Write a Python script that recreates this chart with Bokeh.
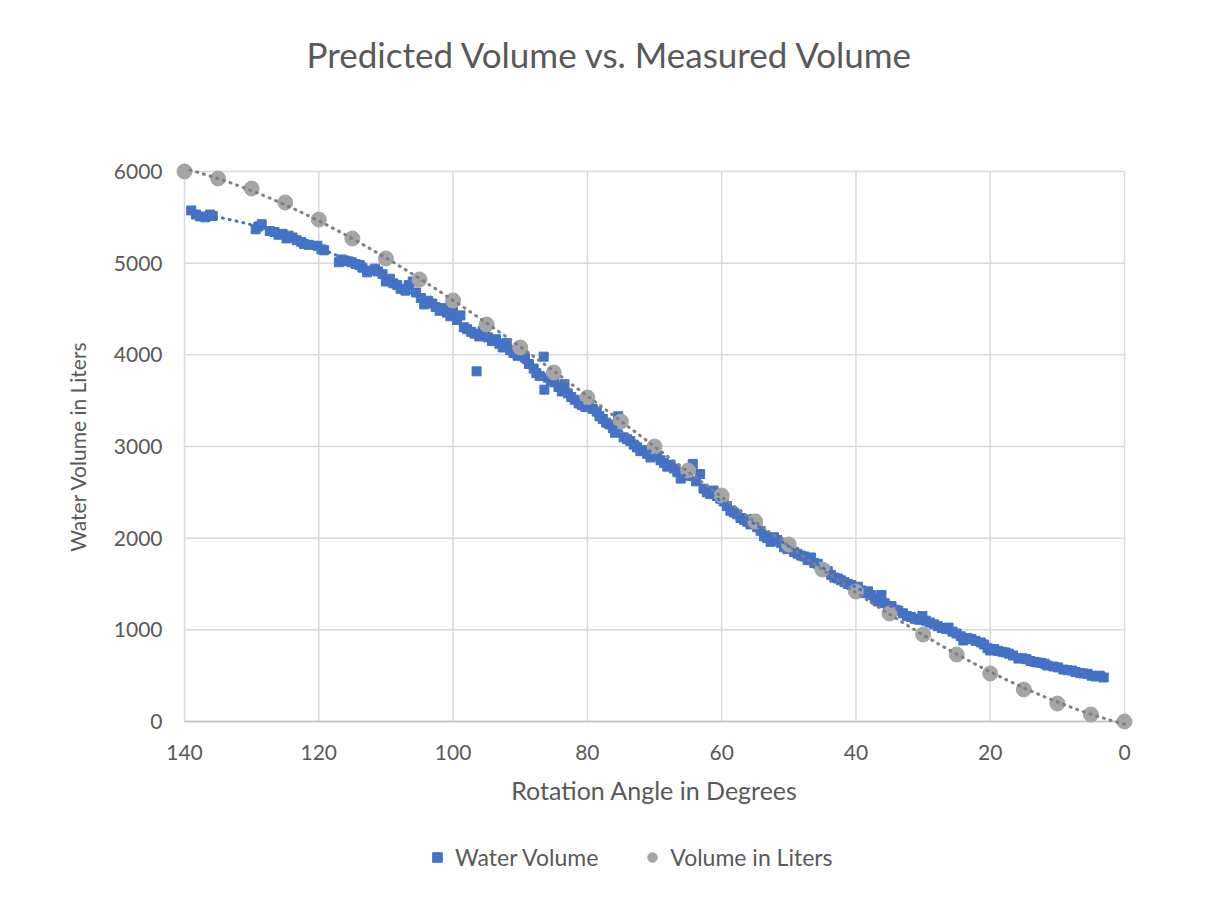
import numpy as np
from bokeh.plotting import figure
from bokeh.layouts import column
from bokeh.models import Range1d, FixedTicker, Legend, LegendItem, Label
from bokeh.embed import file_html
from bokeh.resources import INLINE

chart_title = "Predicted Volume vs. Measured Volume"
x_label = "Rotation Angle in Degrees"
y_label = "Water Volume in Liters"
x_ticks = [0, 20, 40, 60, 80, 100, 120, 140]
y_ticks = [0, 1000, 2000, 3000, 4000, 5000, 6000]
series_names = ["Water Volume", "Volume in Liters"]

water_angle = [
    139.0, 138.3, 137.7, 136.9, 136.2, 135.8, 129.4, 129.0, 128.5, 127.3,
    126.6, 126.0, 125.4, 124.8, 124.5, 123.9, 123.3, 122.6, 122.2, 121.5,
    120.2, 119.6, 119.2, 117.0, 116.6, 116.2, 115.6, 115.1, 114.5, 113.9,
    113.5, 112.8, 112.4, 111.6, 111.2, 110.5, 110.0, 109.4, 108.9, 108.3,
    107.8, 107.1, 106.6, 106.0, 105.5, 104.8, 104.3, 103.7, 103.1, 102.6,
    102.0, 101.5, 100.9, 100.4, 100.0, 99.4, 98.9, 98.4, 97.9, 97.3,
    96.5, 96.8, 96.1, 95.6, 95.2, 94.8, 94.2, 93.6, 93.1, 92.6,
    92.0, 91.5, 91.0, 90.4, 89.9, 89.3, 88.7, 88.0, 87.6, 87.1,
    86.5, 86.4, 85.9, 85.4, 84.9, 84.3, 83.8, 83.4, 82.9, 82.4,
    81.9, 81.3, 80.8, 80.3, 79.8, 79.2, 78.6, 78.2, 77.7, 77.2,
    76.7, 76.2, 75.9, 75.4, 75.0, 74.6, 74.1, 73.6, 73.1, 72.6,
    72.1, 71.6, 71.1, 70.6, 70.1, 69.6, 69.1, 68.6, 68.1, 67.6,
    67.1, 66.6, 66.1, 65.6, 65.0, 64.3, 63.8, 63.2, 62.7, 62.2,
    61.7, 61.2, 60.7, 60.2, 59.7, 59.2, 58.7, 58.2, 57.7, 57.2,
    56.7, 56.2, 55.7, 55.2, 54.7, 54.2, 53.7, 53.2, 52.7, 52.2,
    51.7, 51.2, 50.7, 50.2, 49.7, 49.2, 48.7, 48.2, 47.7, 47.2,
    46.7, 46.2, 45.7, 45.2, 44.7, 44.2, 43.7, 43.2, 42.7, 42.2,
    41.7, 41.2, 40.7, 40.2, 39.7, 39.2, 38.7, 38.2, 37.7, 37.2,
    36.7, 36.2, 35.7, 35.2, 34.7, 34.2, 33.7, 33.0, 32.4, 31.8,
    31.2, 30.6, 30.1, 29.6, 29.0, 28.4, 27.8, 27.2, 26.6, 26.2,
    25.6, 25.0, 24.4, 24.0, 23.4, 22.8, 22.2, 21.4, 20.9, 20.4,
    20.0, 19.4, 18.8, 18.2, 17.7, 17.2, 16.6, 15.8, 15.2, 14.6,
    14.0, 13.4, 13.0, 12.4, 11.9, 11.5, 10.6, 9.9, 9.1, 8.5,
    7.8, 7.3, 6.6, 6.1, 5.5, 4.9, 4.3, 3.7, 3.1,
]
water_volume = [
    5575, 5530, 5510, 5500, 5530, 5515, 5370, 5400, 5425, 5350,
    5340, 5310, 5320, 5270, 5300, 5280, 5250, 5230, 5210, 5200,
    5190, 5150, 5140, 5010, 5040, 5030, 5020, 5010, 4990, 4980,
    4950, 4900, 4920, 4940, 4910, 4880, 4800, 4830, 4780, 4760,
    4720, 4700, 4760, 4800, 4680, 4620, 4550, 4590, 4560, 4520,
    4480, 4510, 4460, 4420, 4470, 4380, 4430, 4300, 4280, 4250,
    3820, 4230, 4200, 4260, 4230, 4190, 4150, 4170, 4120, 4080,
    4130, 4050, 4020, 3990, 4010, 3970, 3900, 3850, 3800, 3770,
    3980, 3620, 3750, 3720, 3700, 3650, 3600, 3680, 3580, 3540,
    3510, 3470, 3450, 3430, 3480, 3410, 3380, 3330, 3300, 3260,
    3240, 3200, 3150, 3330, 3280, 3100, 3080, 3060, 3020, 2990,
    2950, 2960, 2920, 2880, 2950, 2900, 2850, 2820, 2780, 2800,
    2760, 2720, 2650, 2700, 2680, 2810, 2620, 2700, 2540, 2500,
    2480, 2520, 2460, 2430, 2400, 2350, 2300, 2280, 2260, 2220,
    2200, 2180, 2150, 2210, 2120, 2080, 2020, 2000, 1960, 2010,
    1980, 1950, 1900, 1880, 1920, 1850, 1830, 1810, 1800, 1760,
    1790, 1730, 1720, 1680, 1660, 1640, 1600, 1570, 1560, 1540,
    1520, 1500, 1490, 1450, 1470, 1430, 1400, 1420, 1380, 1340,
    1310, 1380, 1290, 1240, 1260, 1220, 1210, 1180, 1150, 1140,
    1120, 1110, 1150, 1100, 1080, 1060, 1040, 1020, 1010, 1025,
    980, 960, 930, 884, 910, 900, 880, 862, 840, 800,
    775, 790, 770, 760, 753, 740, 720, 687, 690, 680,
    660, 650, 644, 640, 630, 611, 600, 590, 567, 560,
    556, 540, 530, 524, 520, 500, 491, 500, 480,
]

pred_angle = [140, 135, 130, 125, 120, 115, 110, 105, 100, 95, 90, 85, 80, 75,
              70, 65, 60, 55, 50, 45, 40, 35, 30, 25, 20, 15, 10, 5, 0]
pred_volume = [6000, 5924, 5815, 5662, 5476, 5269, 5051, 4822, 4593, 4331,
               4080, 3807, 3535, 3273, 3000, 2738, 2465, 2182, 1931, 1658,
               1418, 1178, 949, 731, 524, 349, 196, 76, 0]

BLUE = "#4472C4"
GRAY = "#A5A5A5"
TREND_GRAY = "#7F7F7F"
TEXT = "#595959"
GRID = "#D9D9D9"
AXIS = "#BFBFBF"
FONT = "Lato"

xmin, xmax = min(x_ticks), max(x_ticks)
ymin, ymax = min(y_ticks), max(y_ticks)
PADX, PADY = 1.34, 98  # ~9px breathing room so edge markers are not clipped

W = 1197
TITLE_H, MAIN_H, LEG_H = 120, 710, 59
L, R, T, B = 175, 64, 42, 100


def bare_figure(height):
    f = figure(width=W, height=height, output_backend="svg", toolbar_location=None,
               x_axis_type=None, y_axis_type=None,
               x_range=Range1d(0, 1), y_range=Range1d(0, 1),
               min_border=0, min_border_left=0, min_border_right=0,
               min_border_top=0, min_border_bottom=0)
    f.outline_line_color = None
    f.background_fill_color = "white"
    f.border_fill_color = "white"
    return f


# ---- title strip (its frame is aligned with the main plot's frame)
pt = bare_figure(TITLE_H)
pt.add_layout(Label(x=435, y=TITLE_H - 53, x_units="screen", y_units="screen",
                    text=chart_title, text_align="center", text_baseline="middle",
                    text_font=FONT, text_font_size="35px", text_color=TEXT))

# ---- main plot
p = figure(width=W, height=MAIN_H, output_backend="svg", toolbar_location=None,
           x_range=Range1d(xmax + PADX, xmin - PADX),
           y_range=Range1d(ymin - PADY, ymax + PADY),
           min_border_left=L, min_border_right=R, min_border_top=T, min_border_bottom=B)
p.outline_line_color = None
p.background_fill_color = "white"
p.border_fill_color = "white"
p.xgrid.visible = False
p.ygrid.visible = False

# gridlines spanning exactly the axis extents
p.segment(x0=x_ticks, y0=[ymin] * len(x_ticks), x1=x_ticks, y1=[ymax] * len(x_ticks),
          line_color=GRID, line_width=1.5)
p.segment(x0=[xmax] * len(y_ticks), y0=y_ticks, x1=[xmin] * len(y_ticks), y1=y_ticks,
          line_color=GRID, line_width=1.5)
p.segment(x0=[xmax], y0=[ymin], x1=[xmin], y1=[ymin], line_color=AXIS, line_width=1.5)

for ax in (p.xaxis[0], p.yaxis[0]):
    ax.major_tick_in = 0
    ax.major_tick_out = 0
    ax.minor_tick_in = 0
    ax.minor_tick_out = 0
    ax.axis_line_color = None
    ax.major_label_text_font = FONT
    ax.major_label_text_font_size = "21px"
    ax.major_label_text_color = TEXT
    ax.axis_label_text_font = FONT
    ax.axis_label_text_color = TEXT
    ax.axis_label_text_font_style = "normal"

p.xaxis[0].ticker = FixedTicker(ticks=x_ticks)
p.yaxis[0].ticker = FixedTicker(ticks=y_ticks)
p.xaxis[0].axis_label = x_label
p.yaxis[0].axis_label = y_label
p.xaxis[0].axis_label_text_font_size = "25px"
p.yaxis[0].axis_label_text_font_size = "21px"
p.xaxis[0].major_label_standoff = 14
p.yaxis[0].major_label_standoff = 13
p.xaxis[0].axis_label_standoff = 12
p.yaxis[0].axis_label_standoff = 21

p.scatter(water_angle, water_volume, marker="square", size=9,
          fill_color=BLUE, line_color=BLUE)
p.scatter(pred_angle, pred_volume, marker="circle", size=15,
          fill_color=GRAY, line_color=GRAY)

# polynomial trendlines fitted to each series
cw = np.polyfit(water_angle, water_volume, 3)
xw = np.linspace(min(water_angle), max(water_angle), 300)
p.line(xw, np.polyval(cw, xw), line_color=BLUE, line_width=3,
       line_dash="1 6", line_cap="round")
cp = np.polyfit(pred_angle, pred_volume, 4)
xp = np.linspace(min(pred_angle), max(pred_angle), 300)
p.line(xp, np.polyval(cp, xp), line_color=TREND_GRAY, line_width=3,
       line_dash="1 6", line_cap="round")

# ---- legend strip: swatch renderers reuse each series' first point, which lies
# outside this strip's 0..1 ranges, so only the legend swatches show
pl = bare_figure(LEG_H)
sw_water = pl.scatter(x=water_angle[:1], y=water_volume[:1], marker="square", size=9,
                      fill_color=BLUE, line_color=BLUE)
sw_pred = pl.scatter(x=pred_angle[:1], y=pred_volume[:1], marker="circle", size=15,
                     fill_color=GRAY, line_color=GRAY)
legend = Legend(items=[LegendItem(label=series_names[0], renderers=[sw_water]),
                       LegendItem(label=series_names[1], renderers=[sw_pred])],
                location=(250, 18), orientation="horizontal",
                border_line_color=None, background_fill_alpha=0,
                padding=0, margin=0, spacing=42, label_standoff=6,
                glyph_width=24, glyph_height=24,
                label_text_font=FONT, label_text_font_size="23px",
                label_text_color=TEXT)
pl.add_layout(legend, "center")

layout = column(pt, p, pl, spacing=0)
open("out.html", "w").write(file_html(layout, INLINE))
